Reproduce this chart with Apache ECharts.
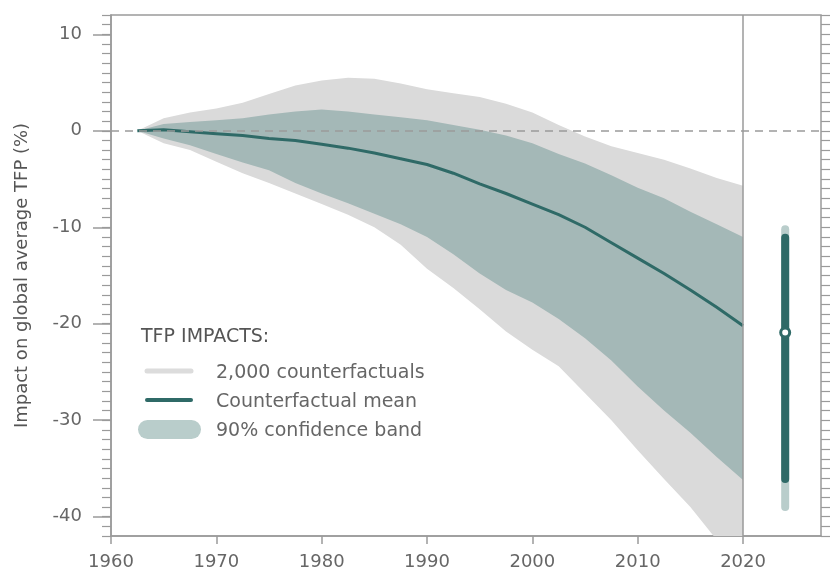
<!DOCTYPE html>
<html lang="en">
<head>
    <meta charset="UTF-8">
    <title>TFP impacts</title>
    <script src="https://cdn.jsdelivr.net/npm/echarts@6/dist/echarts.min.js"></script>
</head>
<body style="margin:0">
    <div id="chart" style="width: 830px; height: 570px;"></div>

    <script>
        // values (percent impact on TFP)
        const years = [1962.5, 1965, 1967.5, 1970, 1972.5, 1975, 1977.5, 1980, 1982.5, 1985, 1987.5, 1990,
                       1992.5, 1995, 1997.5, 2000, 2002.5, 2005, 2007.5, 2010, 2012.5, 2015, 2017.5, 2020];
        const grayUpper = [0, 1.3, 1.9, 2.3, 2.9, 3.8, 4.7, 5.2, 5.5, 5.4, 4.9, 4.3,
                           3.9, 3.5, 2.8, 1.9, 0.6, -0.6, -1.6, -2.3, -3.0, -3.9, -4.9, -5.7];
        const grayLower = [0, -1.3, -2.0, -3.2, -4.4, -5.4, -6.5, -7.6, -8.7, -10.0, -11.8, -14.3,
                           -16.3, -18.5, -20.8, -22.7, -24.4, -27.2, -30.0, -33.1, -36.1, -39.0, -42.4, -45.5];
        const bandUpper = [0, 0.7, 0.9, 1.1, 1.3, 1.7, 2.0, 2.2, 2.0, 1.7, 1.4, 1.1,
                           0.6, 0.1, -0.5, -1.3, -2.4, -3.4, -4.6, -5.9, -7.0, -8.4, -9.7, -11.0];
        const bandLower = [0, -0.8, -1.5, -2.4, -3.3, -4.1, -5.4, -6.5, -7.5, -8.6, -9.7, -11.0,
                           -12.8, -14.8, -16.5, -17.8, -19.5, -21.5, -23.8, -26.5, -29.0, -31.3, -33.8, -36.2];
        const meanLine = [0, 0.1, -0.1, -0.3, -0.5, -0.8, -1.0, -1.4, -1.8, -2.3, -2.9, -3.5,
                          -4.4, -5.5, -6.5, -7.6, -8.7, -10.0, -11.6, -13.2, -14.8, -16.5, -18.3, -20.2];

        // summary bar drawn right of 2020
        const barYear = 2024;
        const barOuter = [-10.2, -39.0];
        const barInner = [-11.1, -36.1];
        const barMid = -20.9;

        const xTicks = [1960, 1970, 1980, 1990, 2000, 2010, 2020];
        const yTicks = [-40, -30, -20, -10, 0, 10];
        const legendLabels = ['2,000 counterfactuals', 'Counterfactual mean', '90% confidence band'];

        const FONT = '"DejaVu Sans", sans-serif';
        const GRAY = '#dadada';
        const BAND = '#a4b8b7';
        const DARK = '#2f6a67';
        const LIGHT = '#b9cdcb';
        const AXIS = '#9a9a9a';

        // filled region between two curves, drawn once as a polygon
        function bandSeries(upper, lower, color, z) {
            return {
                type: 'custom',
                z: z,
                silent: true,
                data: years.map((y, i) => [y, lower[i], upper[i]]),
                encode: { x: 0, y: [1, 2] },
                renderItem: function (params, api) {
                    if (params.dataIndex !== 0) return null;
                    const top = years.map((y, i) => api.coord([y, upper[i]]));
                    const bottom = years.map((y, i) => api.coord([y, lower[i]])).reverse();
                    const cs = params.coordSys;
                    return {
                        type: 'polygon',
                        shape: { points: top.concat(bottom) },
                        style: { fill: color },
                        clipPath: { type: 'rect', shape: { x: cs.x, y: cs.y, width: cs.width, height: cs.height } }
                    };
                }
            };
        }

        const myChart = echarts.init(document.getElementById('chart'));

        const option = {
            animation: false,
            grid: {
                left: 111, right: 9, top: 15, bottom: 34,
                show: true, borderColor: AXIS, borderWidth: 1.5,
                outerBoundsMode: 'none'
            },
            xAxis: {
                type: 'value', min: 1960, max: 2027.4,
                axisLine: { onZero: false, lineStyle: { color: AXIS, width: 1.5 } },
                axisTick: { show: true, length: 8, lineStyle: { color: AXIS, width: 1.5 }, customValues: xTicks },
                axisLabel: {
                    customValues: xTicks, formatter: v => String(v),
                    color: '#666', fontFamily: FONT, fontSize: 18, margin: 17
                },
                splitLine: { show: false }
            },
            yAxis: [
                {
                    type: 'value', min: -42, max: 12,
                    name: 'Impact on global average TFP (%)',
                    nameLocation: 'middle', nameGap: 80,
                    nameTextStyle: { color: '#555', fontFamily: FONT, fontSize: 18 },
                    axisLine: { show: true, onZero: false, lineStyle: { color: AXIS, width: 1.5 } },
                    axisTick: { show: true, length: 18, lineStyle: { color: AXIS, width: 1.5 }, customValues: yTicks },
                    axisLabel: { customValues: yTicks, color: '#666', fontFamily: FONT, fontSize: 18, margin: 29 },
                    splitLine: { show: false }
                },
                {
                    // minor ticks every unit on the left
                    type: 'value', min: -42, max: 12, interval: 1, position: 'left',
                    axisLine: { show: false, onZero: false },
                    axisTick: { show: true, length: 9, lineStyle: { color: AXIS, width: 1.2 } },
                    axisLabel: { show: false },
                    splitLine: { show: false }
                },
                {
                    type: 'value', min: -42, max: 12, interval: 1, position: 'right',
                    axisLine: { show: false, onZero: false },
                    axisTick: { show: true, length: 10, lineStyle: { color: AXIS, width: 1.2 } },
                    axisLabel: { show: false },
                    splitLine: { show: false }
                }
            ],
            series: [
                {
                    // dashed zero reference, kept beneath the filled regions
                    type: 'line', data: [], z: 0,
                    markLine: {
                        silent: true, symbol: 'none', label: { show: false },
                        lineStyle: { color: AXIS, type: [8, 6], width: 1.5 },
                        data: [{ yAxis: 0 }]
                    }
                },
                bandSeries(grayUpper, grayLower, GRAY, 1),
                bandSeries(bandUpper, bandLower, BAND, 2),
                {
                    type: 'line', data: years.map((y, i) => [y, meanLine[i]]), symbol: 'none', z: 4,
                    lineStyle: { color: DARK, width: 3 },
                    markLine: {
                        silent: true, symbol: 'none', label: { show: false },
                        lineStyle: { color: AXIS, type: 'solid', width: 1.5 },
                        data: [{ xAxis: 2020 }]
                    }
                },
                {
                    type: 'line', data: barOuter.map(v => [barYear, v]), symbol: 'none', z: 5,
                    lineStyle: { color: LIGHT, width: 8, cap: 'round' }
                },
                {
                    type: 'line', data: barInner.map(v => [barYear, v]), symbol: 'none', z: 6,
                    lineStyle: { color: DARK, width: 8, cap: 'round' }
                },
                {
                    type: 'scatter', data: [[barYear, barMid]], symbol: 'circle', symbolSize: 9, z: 7,
                    itemStyle: { color: '#fff', borderColor: DARK, borderWidth: 3, opacity: 1 }
                }
            ],
            graphic: [
                { type: 'text', x: 141, y: 337, style: { text: 'TFP IMPACTS:', font: '19px ' + FONT, fill: '#555', verticalAlign: 'middle' } },
                { type: 'line', shape: { x1: 147, y1: 371, x2: 191, y2: 371 }, style: { stroke: '#dcdcdc', lineWidth: 5, lineCap: 'round' } },
                { type: 'line', shape: { x1: 147, y1: 400, x2: 191, y2: 400 }, style: { stroke: DARK, lineWidth: 4, lineCap: 'round' } },
                { type: 'rect', shape: { x: 138, y: 420, width: 63, height: 19, r: 9.5 }, style: { fill: LIGHT } },
                { type: 'text', x: 216, y: 373, style: { text: legendLabels[0], font: '19px ' + FONT, fill: '#666', verticalAlign: 'middle' } },
                { type: 'text', x: 216, y: 402, style: { text: legendLabels[1], font: '19px ' + FONT, fill: '#666', verticalAlign: 'middle' } },
                { type: 'text', x: 216, y: 431, style: { text: legendLabels[2], font: '19px ' + FONT, fill: '#666', verticalAlign: 'middle' } }
            ]
        };

        myChart.setOption(option);
    </script>
</body>
</html>
